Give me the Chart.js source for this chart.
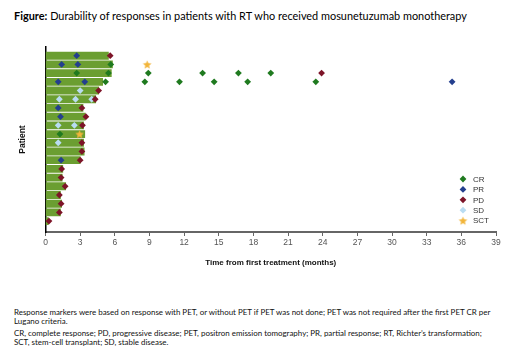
<!DOCTYPE html>
<html>
<head>
<meta charset="utf-8">
<script src="https://cdn.jsdelivr.net/npm/chart.js@4/dist/chart.umd.min.js"></script>
<style>
  html, body { margin:0; padding:0; background:#fff; }
  body { width:520px; height:363px; position:relative; overflow:hidden; font-family:Lato, "Open Sans", sans-serif; }
  #title { position:absolute; left:14px; top:9px; font-size:10.9px; color:#000; white-space:nowrap; }
  #wrap { position:absolute; left:0; top:0; width:520px; height:280px; }
  #notes { position:absolute; left:14px; top:308px; font-size:7.95px; line-height:9.2px; color:#111; width:500px; white-space:nowrap; }
  #notes p { margin:0 0 2.2px 0; }
</style>
</head>
<body>
<div id="title"><b>Figure:</b> Durability of responses in patients with RT who received mosunetuzumab monotherapy</div>
<div id="wrap"><canvas id="c" width="520" height="280"></canvas></div>
<div id="notes">
<p>Response markers were based on response with PET, or without PET if PET was not done; PET was not required after the first PET CR per<br>Lugano criteria.</p>
<p>CR, complete response; PD, progressive disease; PET, positron emission tomography; PR, partial response; RT, Richter’s transformation;<br>SCT, stem-cell transplant; SD, stable disease.</p>
</div>
<script>
// Patients listed top to bottom
const patients = [1,2,3,4,5,6,7,8,9,10,11,12,13,14,15,16,17,18,19,20];
// Duration bar (months) per patient
const durations = [5.45,5.8,5.7,4.95,4.6,4.35,3.25,3.45,3.3,3.4,3.3,3.35,3.0,1.5,1.45,1.75,1.3,1.4,1.3,0.25];
// Response markers: [patient, month]
const crPoints = [[2,5.65],[3,2.7],[3,5.45],[3,8.9],[3,13.6],[3,16.7],[3,19.5],[4,5.2],[4,8.6],[4,11.6],[4,14.6],[4,17.5],[4,23.4],[10,1.25]];
const prPoints = [[1,2.7],[2,1.4],[2,2.8],[4,1.1],[4,3.4],[4,35.2],[7,1.1],[8,1.3],[13,1.35]];
const pdPoints = [[1,5.6],[3,23.9],[5,4.6],[6,4.3],[7,3.15],[8,3.5],[9,3.2],[11,3.15],[12,3.15],[13,3.0],[14,1.4],[15,1.35],[16,1.7],[17,1.2],[18,1.35],[19,1.2],[20,0.3]];
const sdPoints = [[5,3.0],[6,1.2],[6,2.6],[6,4.0],[9,1.1],[9,2.5],[11,1.1]];
const sctPoints = [[2,8.8],[10,2.95]];
const xTicks = [0,3,6,9,12,15,18,21,24,27,30,33,36,39];
const legendLabels = ['CR','PR','PD','SD','SCT'];

const COLORS = { CR:'#1f7a1f', PR:'#243f8e', PD:'#7d1428', SD:'#b9dcf2', SCT:'#f2b53a', bar:'#6b9e31' };

function starCanvas(color, r){
  const s = Math.ceil(r*2+2); const cv = document.createElement('canvas'); cv.width = s; cv.height = s;
  const g = cv.getContext('2d'); g.fillStyle = color; g.beginPath();
  for (let i=0;i<10;i++){ const a = -Math.PI/2 + i*Math.PI/5; const rr = i%2===0 ? r : r*0.45;
    const px = s/2 + rr*Math.cos(a), py = s/2 + rr*Math.sin(a)+0.5; i===0?g.moveTo(px,py):g.lineTo(px,py); }
  g.closePath(); g.fill(); return cv;
}
const starImg = starCanvas(COLORS.SCT, 4.5);

function pts(arr){ return arr.map(p => ({x:p[1], y:p[0]})); }
function markerSet(label, arr, color){
  return { type:'scatter', label, data: pts(arr), backgroundColor: color, borderColor: color,
    pointStyle: label==='SCT' ? starImg : 'rectRot', pointRadius: 3.4, pointBorderWidth: 0, pointHoverRadius: 3.4, clip:false };
}

const legendPlugin = {
  id:'customLegend',
  afterDraw(chart){
    const ctx = chart.ctx; ctx.save();
    const x0 = 463, y0 = 179, dy = 10.4;
    const cols = [COLORS.CR, COLORS.PR, COLORS.PD, COLORS.SD, COLORS.SCT];
    legendLabels.forEach((lab,i)=>{
      const y = y0 + i*dy;
      if (lab==='SCT'){ ctx.drawImage(starImg, x0-starImg.width/2, y-starImg.height/2); }
      else { ctx.fillStyle = cols[i]; ctx.beginPath(); ctx.moveTo(x0, y-3.4); ctx.lineTo(x0+3.4,y); ctx.lineTo(x0,y+3.4); ctx.lineTo(x0-3.4,y); ctx.closePath(); ctx.fill(); }
      ctx.fillStyle = '#333'; ctx.font = '8px "Liberation Sans", Arial, sans-serif'; ctx.textBaseline='middle'; ctx.textAlign='left';
      ctx.fillText(lab, x0+10, y+0.5);
    });
    ctx.restore();
  }
};

new Chart(document.getElementById('c'), {
  type:'scatter',
  data:{
    datasets:[
      { type:'bar', label:'Duration', indexAxis:'y', data: patients.map((p,i)=>({x:durations[i], y:p})),
        backgroundColor: COLORS.bar, barThickness: 7.2, borderWidth:0, order: 10 },
      markerSet('CR', crPoints, COLORS.CR),
      markerSet('PR', prPoints, COLORS.PR),
      markerSet('PD', pdPoints, COLORS.PD),
      markerSet('SD', sdPoints, COLORS.SD),
      markerSet('SCT', sctPoints, COLORS.SCT)
    ]
  },
  options:{
    responsive:false, animation:false, devicePixelRatio:1,
    layout:{ padding:{ top:47, right:24, bottom:8, left:0 } },
    plugins:{ legend:{display:false}, tooltip:{enabled:false} },
    scales:{
      x:{ type:'linear', offset:false, min:0, max:39, afterBuildTicks: s => { s.ticks = xTicks.map(v=>({value:v})); },
        ticks:{ color:'#555', font:{ family:'"Liberation Sans", Arial, sans-serif', size:8.5 }, padding:2 },
        grid:{ offset:false, drawOnChartArea:false, drawTicks:true, tickLength:4, color:'#666' },
        border:{ display:true, color:'#666', width:2 },
        title:{ display:true, text:'Time from first treatment (months)', color:'#111', font:{ family:'"Liberation Sans", Arial, sans-serif', size:8, weight:'bold' }, padding:{top:0,bottom:4} },
        afterFit: s => { s.height = 40; }
      },
      y:{ type:'linear', offset:false, reverse:true, min:0, max:21.25,
        ticks:{ display:false }, grid:{ offset:false, display:false, drawTicks:false },
        border:{ display:true, color:'#000', width:1.5 },
        title:{ display:true, text:'Patient', color:'#111', font:{ family:'"Liberation Sans", Arial, sans-serif', size:8.5, weight:'bold' }, padding:{top:18,bottom:0} },
        afterFit: s => { s.width = 45.5; }
      }
    }
  },
  plugins:[legendPlugin]
});
</script>
</body>
</html>
